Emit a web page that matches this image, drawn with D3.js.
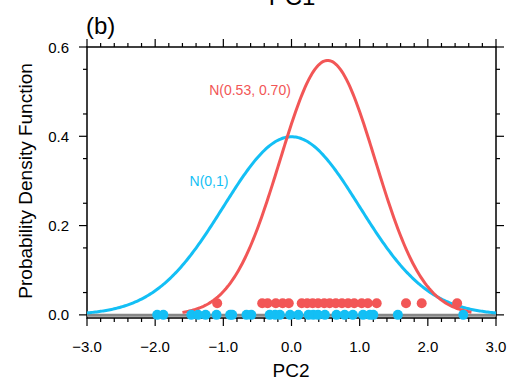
<!DOCTYPE html>
<html>
<head>
<meta charset="utf-8">
<script src="https://cdn.jsdelivr.net/npm/d3@7"></script>
<style>
  body { margin: 0; background: #fff; }
  text { font-family: "Liberation Sans", Arial, sans-serif; }
</style>
</head>
<body>
<div id="chart"></div>
<script>
// fitted normal curves
const curveNames = ['N(0,1)', 'N(0.53, 0.70)']
const curveMeans = [0, 0.53]
const curveSds = [1, 0.70]
const curveRanges = [[-3, 3], [-1.6, 2.65]]

// sample points
const bluePoints = [-1.97, -1.88, -1.47, -1.37, -1.26, -1.10, -0.90, -0.87, -0.66, -0.59,
  -0.32, -0.24, -0.17, -0.02, 0.10, 0.25, 0.32, 0.39, 0.49, 0.66, 0.78, 0.90, 1.05, 1.15,
  1.20, 1.56, 2.52]
const redPoints = [-1.09, -0.43, -0.35, -0.23, -0.13, -0.04, 0.15, 0.23, 0.31, 0.39, 0.48,
  0.56, 0.65, 0.74, 0.83, 0.92, 1.03, 1.12, 1.25, 1.68, 1.91, 2.43]
const redPointLevel = 0.026

const xTicks = [-3, -2, -1, 0, 1, 2, 3]
const yTicks = [0, 0.2, 0.4, 0.6]

const width = 510,
      height = 381
const blue = '#13bff5',
      red = '#f25656'

const svg = d3.select('#chart')
  .append('svg')
  .attr('width', width)
  .attr('height', height)

const x = d3.scaleLinear().domain([-3, 3]).range([87, 496])
const y = d3.scaleLinear().domain([-0.007, 0.6]).range([318, 47])

// frame
svg.append('rect')
  .attr('x', x(-3)).attr('y', y(0.6))
  .attr('width', x(3) - x(-3)).attr('height', y(-0.007) - y(0.6))
  .attr('fill', 'none').attr('stroke', '#000').attr('stroke-width', 1.5)

function tickLines(vals, len, side) {
  vals.forEach(function(v) {
    let x1, y1, x2, y2
    if (side === 'bottom') { x1 = x2 = x(v); y1 = y(-0.007); y2 = y1 + len }
    if (side === 'top') { x1 = x2 = x(v); y1 = y(0.6); y2 = y1 - len }
    if (side === 'left') { y1 = y2 = y(v); x1 = x(-3); x2 = x1 - len }
    if (side === 'right') { y1 = y2 = y(v); x1 = x(3); x2 = x1 + len }
    svg.append('line')
      .attr('x1', x1).attr('y1', y1).attr('x2', x2).attr('y2', y2)
      .attr('stroke', '#000').attr('stroke-width', 1.2)
  })
}
const xMinor = d3.range(-3, 3.001, 0.2).filter(function(v) { return Math.abs(v - Math.round(v)) > 0.01 })
const yMinor = d3.range(0.05, 0.6, 0.1)
tickLines(xTicks, 8, 'bottom'); tickLines(xMinor, 4, 'bottom')
tickLines(xTicks, 8, 'top'); tickLines(xMinor, 4, 'top')
tickLines(yTicks, 8, 'left'); tickLines(yMinor, 4, 'left')
tickLines(yTicks, 8, 'right'); tickLines(yMinor, 4, 'right')

// tick labels
svg.selectAll('.xlab').data(xTicks).enter().append('text')
  .attr('x', function(d) { return x(d) })
  .attr('y', 352)
  .attr('text-anchor', 'middle')
  .attr('font-size', 15)
  .text(function(d) { return d3.format('.1f')(d) })
svg.selectAll('.ylab').data(yTicks).enter().append('text')
  .attr('x', 69)
  .attr('y', function(d) { return y(d) + 5.5 })
  .attr('text-anchor', 'end')
  .attr('font-size', 15)
  .text(function(d) { return d3.format('.1f')(d) })

// axis titles
svg.append('text')
  .attr('x', 291).attr('y', 377)
  .attr('text-anchor', 'middle').attr('font-size', 19)
  .text('PC2')
svg.append('text')
  .attr('transform', 'translate(32,' + ((y(0.6) + y(0)) / 2) + ') rotate(-90)')
  .attr('text-anchor', 'middle').attr('font-size', 19)
  .text('Probability Density Function')
svg.append('text')
  .attr('x', 86).attr('y', 34)
  .attr('font-size', 24)
  .text('(b)')
svg.append('text')
  .attr('x', 292).attr('y', 5)
  .attr('text-anchor', 'middle').attr('font-size', 24)
  .text('PC1')

// zero line
svg.append('line')
  .attr('x1', x(-3)).attr('x2', x(3))
  .attr('y1', y(0) + 0.5).attr('y2', y(0) + 0.5)
  .attr('stroke', '#888').attr('stroke-width', 3)

// curves
function pdf(v, m, s) {
  return Math.exp(-(v - m) * (v - m) / (2 * s * s)) / (s * Math.sqrt(2 * Math.PI))
}
const line = d3.line()
  .x(function(d) { return x(d[0]) })
  .y(function(d) { return y(d[1]) })
const colors = [blue, red]
curveNames.forEach(function(name, i) {
  const r = curveRanges[i]
  const pts = d3.range(r[0], r[1] + 0.001, 0.02).map(function(v) {
    return [v, pdf(v, curveMeans[i], curveSds[i])]
  })
  svg.append('path')
    .attr('d', line(pts))
    .attr('fill', 'none')
    .attr('stroke', colors[i])
    .attr('stroke-width', 3)
})

// sample points
svg.selectAll('.red').data(redPoints).enter().append('circle')
  .attr('cx', function(d) { return x(d) })
  .attr('cy', y(redPointLevel))
  .attr('r', 5)
  .attr('fill', red)
svg.selectAll('.blue').data(bluePoints).enter().append('circle')
  .attr('cx', function(d) { return x(d) })
  .attr('cy', y(0))
  .attr('r', 5)
  .attr('fill', blue)

// curve labels
svg.append('text')
  .attr('x', 250).attr('y', 95)
  .attr('text-anchor', 'middle').attr('font-size', 14)
  .attr('fill', red)
  .text(curveNames[1])
svg.append('text')
  .attr('x', 209).attr('y', 186)
  .attr('text-anchor', 'middle').attr('font-size', 14)
  .attr('fill', blue)
  .text(curveNames[0])
</script>
</body>
</html>
